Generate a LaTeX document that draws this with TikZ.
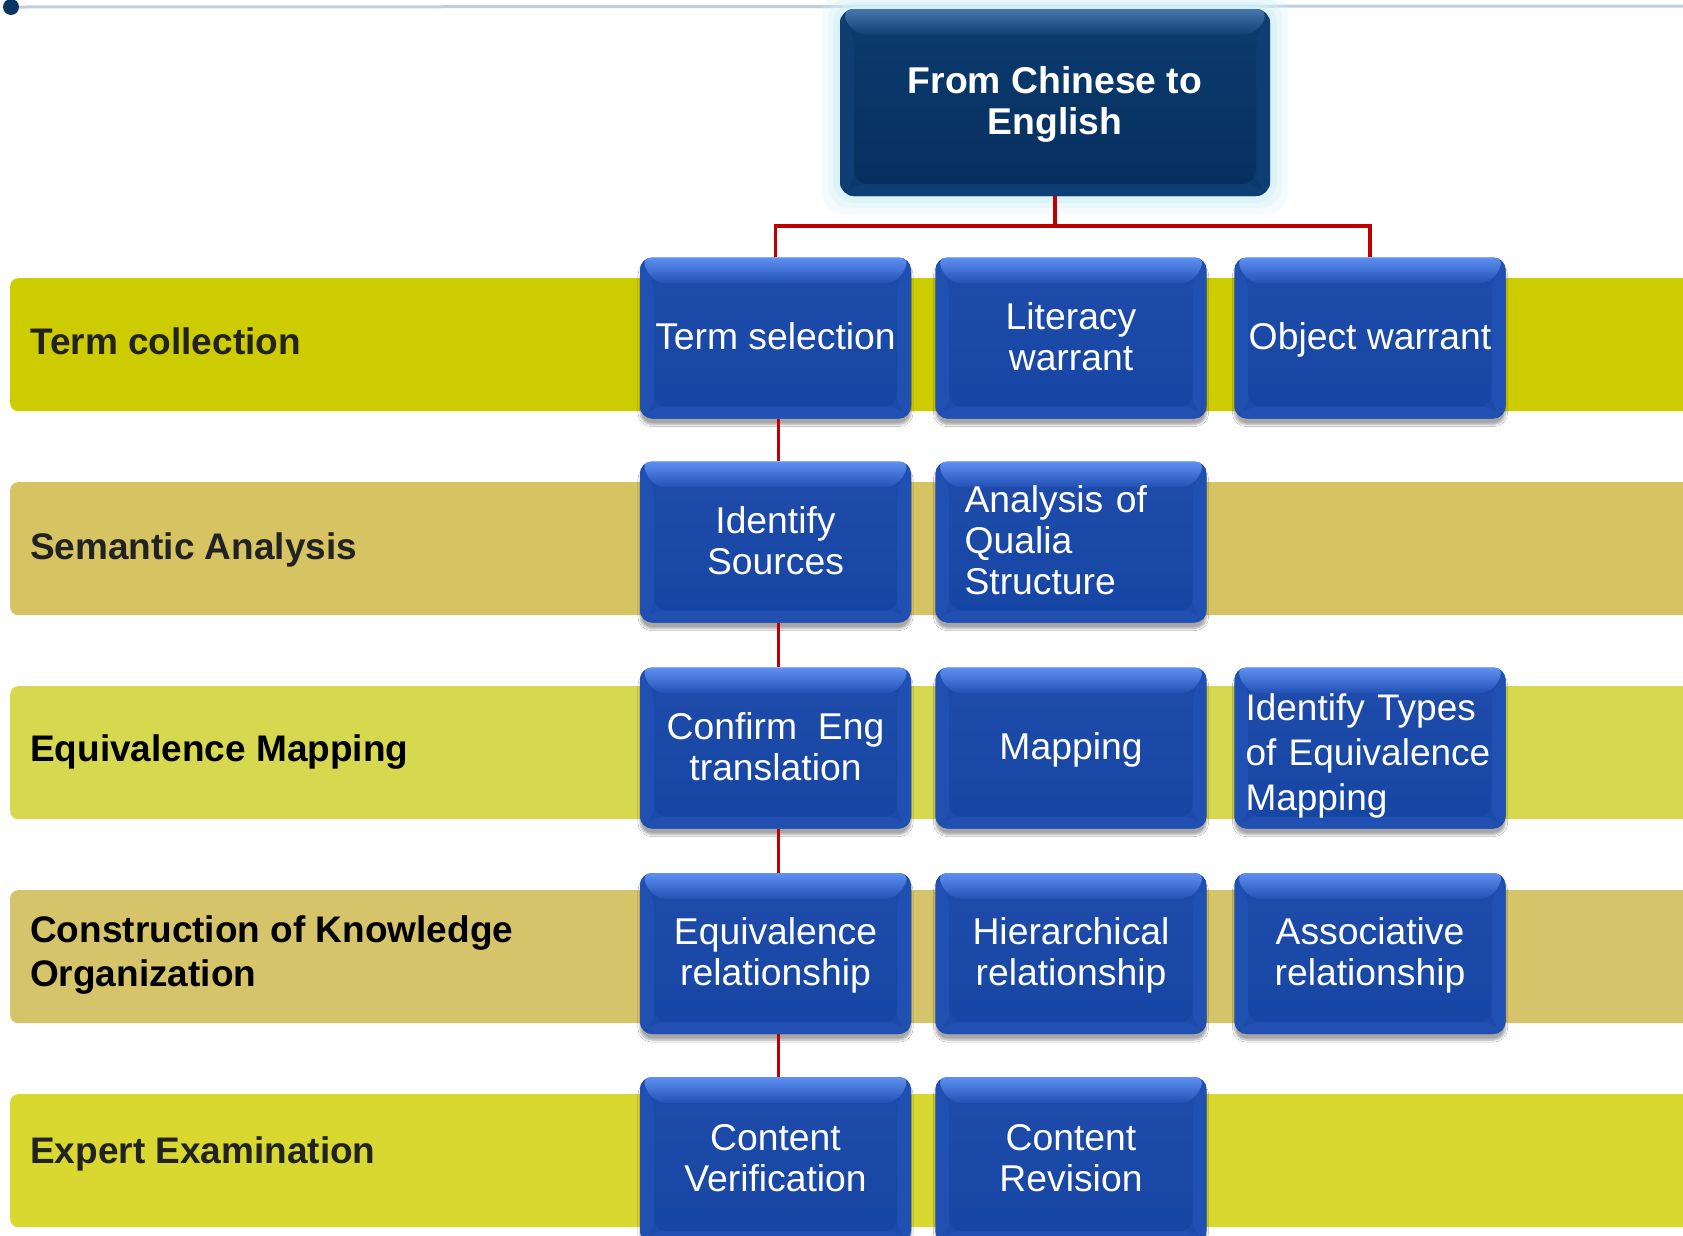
\documentclass[tikz,border=0pt]{standalone}
\usepackage{fontspec}
\setmainfont{Liberation Sans}
\usetikzlibrary{shadows,shadows.blur}
\definecolor{bandA}{HTML}{CCCC00}
\definecolor{bandB}{HTML}{D6C463}
\definecolor{bandC}{HTML}{D6D84F}
\definecolor{bandD}{HTML}{D5C46A}
\definecolor{bandE}{HTML}{D8D830}
\definecolor{Btop}{HTML}{5E90F2}
\definecolor{Bhi}{HTML}{3363CC}
\definecolor{Bside}{HTML}{2150B3}
\definecolor{Bface}{HTML}{1E4BAA}
\definecolor{Bbot}{HTML}{1646A5}
\definecolor{Dtop}{HTML}{4777AE}
\definecolor{Dhi}{HTML}{1E4D84}
\definecolor{Dside}{HTML}{0E3E73}
\definecolor{Dface}{HTML}{0B3A6E}
\definecolor{Dbot}{HTML}{06305F}
\definecolor{redc}{HTML}{C00000}
\definecolor{glowc}{HTML}{D5F1F6}
\definecolor{linec}{HTML}{C3CED9}
\definecolor{dotc}{HTML}{0B3563}
\definecolor{labc}{HTML}{222222}
% last line of a text: its descenders do not move the text off centre
\newcommand\lastln[1]{\smash{#1}}
\newcommand\capstrut{\rule[-4pt]{0pt}{30pt}}
\newcommand\tallstrut{\rule[-4pt]{0pt}{42pt}}
\tikzset{
  bevel/.style n args={5}{path picture={
    \path (path picture bounding box.north west) coordinate (pNW)
          (path picture bounding box.north east) coordinate (pNE)
          (path picture bounding box.south west) coordinate (pSW)
          (path picture bounding box.south east) coordinate (pSE);
    \path ([xshift=14pt,yshift=-26pt]pNW) coordinate (qNW)
          ([xshift=-14pt,yshift=-26pt]pNE) coordinate (qNE)
          ([xshift=14pt,yshift=12pt]pSW) coordinate (qSW)
          ([xshift=-14pt,yshift=12pt]pSE) coordinate (qSE);
    \fill[#3] (pNW) -- (qNW) -- (qSW) -- (pSW) -- cycle;
    \fill[#3] (pNE) -- (qNE) -- (qSE) -- (pSE) -- cycle;
    \fill[#3] (pSW) -- (qSW) -- (qSE) -- (pSE) -- cycle;
    \shade[top color=#1, middle color=#2, bottom color=#3] (pNW) -- (pNE) -- (qNE) -- (qNW) -- cycle;
    \shade[top color=#4, bottom color=#5] (qNW) rectangle (qSE);
  }},
  bandbox/.style={rounded corners=8pt, minimum width=1700pt, minimum height=133pt, anchor=north west, inner sep=0pt, draw=none},
  lab/.style={anchor=west, inner sep=0pt, align=left, text=labc, font=\bfseries\fontsize{37}{44}\selectfont,
    execute at begin node=\capstrut, execute at end node=\capstrut},
  bluebox/.style={rounded corners=12pt, fill=Bface, bevel={Btop}{Bhi}{Bside}{Bface}{Bbot},
    minimum width=271pt, minimum height=161pt, inner sep=0pt, text=white, align=center, font=\fontsize{37.3}{41}\selectfont,
    execute at begin node=\capstrut, execute at end node=\capstrut,
    blur shadow={shadow xshift=0pt, shadow yshift=-6pt, shadow opacity=35, shadow blur steps=6}},
  topbox/.style={rounded corners=14pt, fill=Dface, bevel={Dtop}{Dhi}{Dside}{Dface}{Dbot},
    minimum width=430pt, minimum height=187pt, inner sep=0pt, text=white, align=center, font=\bfseries\fontsize{37.3}{41}\selectfont,
    execute at begin node=\capstrut, execute at end node=\capstrut},
  redline/.style={draw=redc, line width=3.5pt},
}
\begin{document}
\begin{tikzpicture}[x=1pt,y=-1pt]
\useasboundingbox (0,0) rectangle (1683,1235);
\clip (0,0) rectangle (1683,1235);
\fill[white] (0,0) rectangle (1683,1235);
% top rule
\coordinate (ruleend) at (1683,6);
\node[circle, fill=dotc, minimum size=16pt, inner sep=0pt] (dot) at (11,7) {};
\draw[linec, line width=3pt] (dot.east) -- (ruleend);
% bands
\node[bandbox, fill=bandA] (b1) at (10,278) {};
\node[bandbox, fill=bandB] (b2) at (10,482) {};
\node[bandbox, fill=bandC] (b3) at (10,686) {};
\node[bandbox, fill=bandD] (b4) at (10,890) {};
\node[bandbox, fill=bandE] (b5) at (10,1094) {};
\node[lab] (l1) at (30,343) {\lastln{Term collection}};
\node[lab] (l2) at (30,548) {\lastln{Semantic Analysis}};
\node[lab, text=black] (l3) at (30,750) {\lastln{Equivalence Mapping}};
\node[lab, text=black] (l4) at (30,953.5) {Construction of Knowledge\\\lastln{Organization}};
\node[lab] (l5) at (30,1152.5) {\lastln{Expert Examination}};
% glow of top box
\foreach \k/\o in {18/0.25,12/0.35,7/0.5,3/0.7}
  \fill[glowc, opacity=\o, rounded corners=22pt] ({840-\k},{9-\k}) rectangle ({1270+\k},{196+\k});
\node[topbox] (top) at (1055,102.5) {From Chinese to\\\lastln{English}};
% boxes
\node[bluebox] (t1) at (775.5,338) {\lastln{Term selection}};
\node[bluebox] (t2) at (1071,338) {Literacy\\\lastln{warrant}};
\node[bluebox] (t3) at (1370,338) {\lastln{Object warrant}};
\node[bluebox] (s1) at (775.5,542) {Identify\\\lastln{Sources}};
\node[bluebox, text width=213pt, align=left] (s2) at (1071,542) {Analysis of\\Qualia\\\lastln{Structure}};
\node[bluebox] (e1) at (775.5,748) {Confirm\ \ Eng\\\lastln{translation}};
\node[bluebox] (e2) at (1071,748) {\lastln{Mapping}};
\node[bluebox, text width=249pt, align=left, font=\fontsize{37}{45}\selectfont,
  execute at begin node=\tallstrut] (e3) at (1370,748) {Identify Types\\of Equivalence\\\lastln{Mapping}};
\node[bluebox] (k1) at (775.5,953.5) {Equivalence\\\lastln{relationship}};
\node[bluebox] (k2) at (1071,953.5) {Hierarchical\\\lastln{relationship}};
\node[bluebox] (k3) at (1370,953.5) {Associative\\\lastln{relationship}};
\node[bluebox, minimum height=166pt] (x1) at (775.5,1160) {Content\\\lastln{Verification}};
\node[bluebox, minimum height=166pt] (x2) at (1071,1160) {Content\\\lastln{Revision}};
% connectors
\coordinate (hj) at (1055,226);
\draw[redline] (top.south) -- (hj);
\draw[redline] (t1.north) |- (hj) -| (t3.north);
\draw[redline] ([xshift=3pt]t1.south) -- ([xshift=3pt]s1.north);
\draw[redline] ([xshift=3pt]s1.south) -- ([xshift=3pt]e1.north);
\draw[redline] ([xshift=3pt]e1.south) -- ([xshift=3pt]k1.north);
\draw[redline] ([xshift=3pt]k1.south) -- ([xshift=3pt]x1.north);
\end{tikzpicture}
\end{document}
